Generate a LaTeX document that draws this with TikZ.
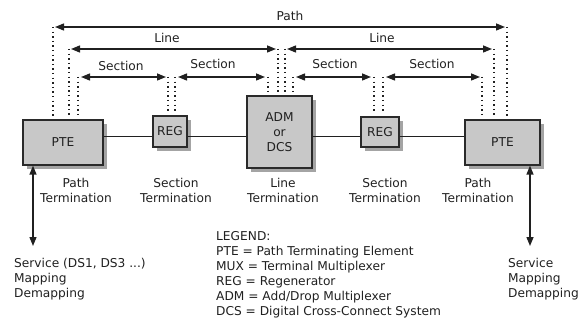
\documentclass[tikz,border=0pt]{standalone}
\usepackage{fontspec}
\setmainfont{DejaVu Sans}
\usetikzlibrary{arrows.meta,shadows}
\definecolor{boxfill}{HTML}{C8C8C8}
\definecolor{boxline}{HTML}{2A2A2A}
\definecolor{shadowc}{HTML}{A4A4A4}
\definecolor{ink}{HTML}{202020}
\begin{document}
\begin{tikzpicture}[x=1pt,y=-1pt,
  every node/.style={font=\fontsize{12.2}{15}\selectfont, text=ink, inner sep=0pt},
  elem/.style={draw=boxline, line width=1.3pt, fill=boxfill, align=center,
     drop shadow={shadow xshift=4pt, shadow yshift=-4pt, fill=shadowc, opacity=1}},
  span/.style={ink, line width=1.4pt, {Triangle[length=9pt,width=7pt]}-{Triangle[length=9pt,width=7pt]}},
  guide/.style={ink, line width=1.4pt, dash pattern=on 1.4pt off 3.2pt},
  link/.style={ink, line width=1.2pt},
  lbl/.style={align=center},
]
\useasboundingbox (0,0) rectangle (583,331);

% elements
\node[elem, minimum width=80pt, minimum height=45pt] (pteL) at (63,142.5) {PTE};
\node[elem, minimum width=34pt, minimum height=31pt] (reg1) at (170,131.5) {REG};
\node[elem, minimum width=65pt, minimum height=72pt] (adm) at (279.5,132) {ADM\\or\\DCS};
\node[elem, minimum width=38pt, minimum height=30pt] (reg2) at (380,132) {REG};
\node[elem, minimum width=75pt, minimum height=45pt] (pteR) at (502.5,142.5) {PTE};

% horizontal links
\coordinate (hl) at (0,136.5);
\draw[link] (pteL.east |- hl) -- (reg1.west |- hl);
\draw[link] (reg1.east |- hl) -- (adm.west |- hl);
\draw[link] (adm.east |- hl) -- (reg2.west |- hl);
\draw[link] (reg2.east |- hl) -- (pteR.west |- hl);

% span end points
\coordinate (pa) at (55,27);   \coordinate (pb) at (505,27);
\coordinate (la) at (71,49);   \coordinate (lb) at (276,49);
\coordinate (lc) at (287,49);  \coordinate (ld) at (492,49);
\coordinate (sa) at (81,77);   \coordinate (sb) at (166,77);
\coordinate (sc) at (178,77);  \coordinate (sd) at (265,77);
\coordinate (se) at (296,77);  \coordinate (sf) at (371,77);
\coordinate (sg) at (386,77);  \coordinate (sh) at (480,77);

% guides (dotted)
\coordinate (gpa) at (53,27);  \coordinate (gpa2) at (53,116);
\coordinate (gpb) at (507,27); \coordinate (gpb2) at (507,116);
\coordinate (gla) at (69,49);  \coordinate (gla2) at (69,117);
\coordinate (glb) at (278,49); \coordinate (glb2) at (278,94);
\coordinate (glc) at (285,49); \coordinate (glc2) at (285,94);
\coordinate (gld) at (494,49); \coordinate (gld2) at (494,117);
\coordinate (gsa) at (78,77);  \coordinate (gsa2) at (78,117);
\coordinate (gsb) at (168,77); \coordinate (gsb2) at (168,113);
\coordinate (gsc) at (175,77); \coordinate (gsc2) at (175,113);
\coordinate (gsd) at (268,77); \coordinate (gsd2) at (268,94);
\coordinate (gse) at (293,77); \coordinate (gse2) at (293,94);
\coordinate (gsf) at (374,77); \coordinate (gsf2) at (374,113);
\coordinate (gsg) at (383,77); \coordinate (gsg2) at (383,113);
\coordinate (gsh) at (482,77); \coordinate (gsh2) at (482,117);
\foreach \g in {pa,pb,la,lb,lc,ld,sa,sb,sc,sd,se,sf,sg,sh}
  \draw[guide] (g\g) -- (g\g2);

% spans
\draw[span] (pa) -- (pb);
\draw[span] (la) -- (lb);
\draw[span] (lc) -- (ld);
\draw[span] (sa) -- (sb);
\draw[span] (sc) -- (sd);
\draw[span] (se) -- (sf);
\draw[span] (sg) -- (sh);

% span labels
\node (tpath) at (290,16) {Path};
\node (tl1) at (167,38) {Line};
\node (tl2) at (382,38) {Line};
\node (ts1) at (121,66) {Section};
\node (ts2) at (213,64) {Section};
\node (ts3) at (335,64) {Section};
\node (ts4) at (432,64) {Section};

% termination labels
\node[lbl] (t1) at (76,190) {Path\\Termination};
\node[lbl] (t2) at (176,190) {Section\\Termination};
\node[lbl] (t3) at (283,190) {Line\\Termination};
\node[lbl] (t4) at (385,190) {Section\\Termination};
\node[lbl] (t5) at (478,190) {Path\\Termination};

% service arrows
\coordinate (svL) at (33,246);
\coordinate (svR) at (530,246);
\draw[span] (pteL.south -| svL) -- (svL);
\draw[span] (pteR.south -| svR) -- (svR);

\node[anchor=north west, align=left] (servL) at (14,258) {Service (DS1, DS3 ...)\\Mapping\\Demapping};
\node[anchor=north west, align=left] (servR) at (508,258) {Service\\Mapping\\Demapping};

% legend
\node[anchor=north west, align=left] (legend) at (216,231) {LEGEND:\\PTE = Path Terminating Element\\MUX = Terminal Multiplexer\\REG = Regenerator\\ADM = Add/Drop Multiplexer\\DCS = Digital Cross-Connect System};
\end{tikzpicture}
\end{document}
